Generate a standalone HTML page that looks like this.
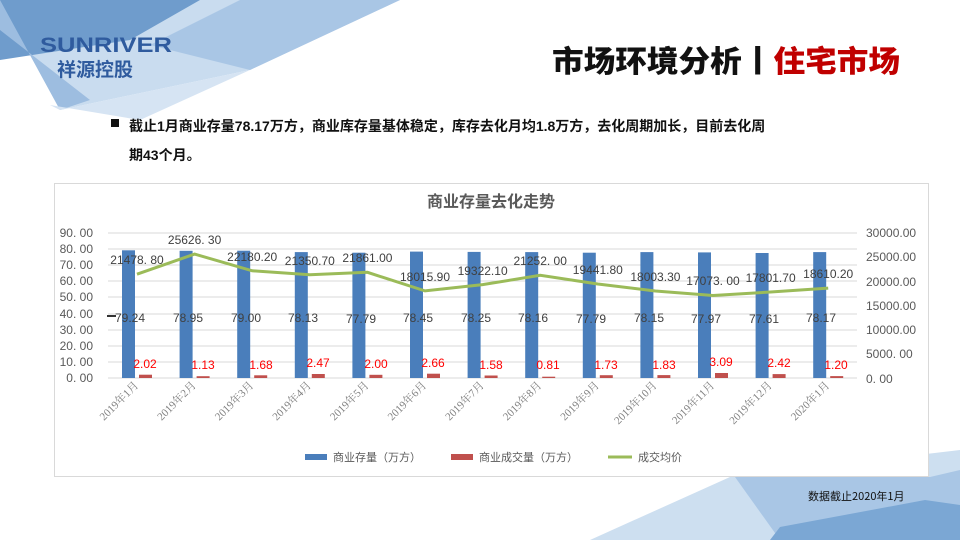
<!DOCTYPE html>
<html><head><meta charset="utf-8"><style>
body{margin:0;width:960px;height:540px;overflow:hidden;background:#fff;font-family:"Liberation Sans","Noto Sans CJK SC",sans-serif;position:relative}
</style></head><body>
<svg width="960" height="540" style="position:absolute;left:0;top:0">
<polygon points="0,0 400,0 250,70 60,110" fill="#c9dcef"/>
<polygon points="0,0 200,0 130,40 0,60" fill="#6f9ccc"/>
<polygon points="0,0 60,110 90,100 0,30" fill="#9dbde0"/>
<polygon points="60,110 250,70 140,120 50,105" fill="#d6e4f3"/>
<polygon points="400,0 240,0 150,45 250,70" fill="#a9c6e5"/>
<polygon points="590,540 730,477 960,450 960,540" fill="#cddff0"/>
<polygon points="735,477 930,477 960,470 960,540 780,540" fill="#a9c6e5"/>
<polygon points="780,527 925,500 960,505 960,540 770,540" fill="#7ba7d4"/>
<text x="40" y="52" font-size="21" font-weight="bold" fill="#2f5b9e" font-family="Liberation Sans,sans-serif" textLength="132" lengthAdjust="spacingAndGlyphs">SUNRIVER</text>
<text x="57" y="76" font-size="19" font-weight="bold" fill="#2f5b9e" font-family="Noto Sans CJK SC,sans-serif">祥源控股</text>
<text x="552" y="72" font-size="30" font-weight="900" fill="#111" font-family="Noto Sans CJK SC,sans-serif" textLength="348" lengthAdjust="spacingAndGlyphs">市场环境分析丨<tspan fill="#c00000">住宅市场</tspan></text>
<rect x="111" y="119" width="8" height="8" fill="#111"/>
<text x="129" y="131" font-size="14" font-weight="bold" fill="#111" font-family="Liberation Sans,Noto Sans CJK SC,sans-serif">截止1月商业存量78.17万方，商业库存量基体稳定，库存去化月均1.8万方，去化周期加长，目前去化周</text>
<text x="129" y="160" font-size="14" font-weight="bold" fill="#111" font-family="Liberation Sans,Noto Sans CJK SC,sans-serif">期43个月。</text>
<rect x="54.5" y="183.5" width="874" height="293" fill="#fff" stroke="#d9d9d9"/>
<text x="491" y="207" font-size="16" font-weight="bold" fill="#595959" text-anchor="middle" font-family="Noto Sans CJK SC,sans-serif">商业存量去化走势</text>
<g stroke="#d9d9d9" stroke-width="1">
<line x1="108" x2="857" y1="233" y2="233"/><line x1="108" x2="857" y1="249" y2="249"/><line x1="108" x2="857" y1="265" y2="265"/><line x1="108" x2="857" y1="281" y2="281"/><line x1="108" x2="857" y1="297" y2="297"/><line x1="108" x2="857" y1="314" y2="314"/><line x1="108" x2="857" y1="330" y2="330"/><line x1="108" x2="857" y1="346" y2="346"/><line x1="108" x2="857" y1="362" y2="362"/><line x1="108" x2="857" y1="378" y2="378"/>
</g>
<g font-size="12" fill="#595959" text-anchor="end">
<text x="93" y="237">90. 00</text><text x="93" y="253">80. 00</text><text x="93" y="269">70. 00</text><text x="93" y="285">60. 00</text><text x="93" y="301">50. 00</text><text x="93" y="318">40. 00</text><text x="93" y="334">30. 00</text><text x="93" y="350">20. 00</text><text x="93" y="366">10. 00</text><text x="93" y="382">0. 00</text>
</g>
<g font-size="12" fill="#595959">
<text x="866" y="237">30000.00</text><text x="866" y="261">25000.00</text><text x="866" y="286">20000.00</text><text x="866" y="310">15000.00</text><text x="866" y="334">10000.00</text><text x="866" y="358">5000. 00</text><text x="866" y="383">0. 00</text>
</g>
<g fill="#4a7ebb">
<rect x="122" y="250.3" width="13" height="127.7"/><rect x="179.6" y="250.8" width="13" height="127.2"/><rect x="237.2" y="250.7" width="13" height="127.3"/><rect x="294.8" y="252.1" width="13" height="125.9"/><rect x="352.4" y="252.7" width="13" height="125.3"/><rect x="410" y="251.6" width="13" height="126.4"/><rect x="467.6" y="251.9" width="13" height="126.1"/><rect x="525.2" y="252.1" width="13" height="125.9"/><rect x="582.8" y="252.7" width="13" height="125.3"/><rect x="640.4" y="252.1" width="13" height="125.9"/><rect x="698" y="252.4" width="13" height="125.6"/><rect x="755.6" y="253" width="13" height="125"/><rect x="813.2" y="252.1" width="13" height="125.9"/>
</g>
<g fill="#c0504d">
<rect x="139" y="374.7" width="13" height="3.3"/><rect x="196.6" y="376.2" width="13" height="1.8"/><rect x="254.2" y="375.3" width="13" height="2.7"/><rect x="311.8" y="374" width="13" height="4"/><rect x="369.4" y="374.8" width="13" height="3.2"/><rect x="427" y="373.7" width="13" height="4.3"/><rect x="484.6" y="375.5" width="13" height="2.5"/><rect x="542.2" y="376.7" width="13" height="1.3"/><rect x="599.8" y="375.2" width="13" height="2.8"/><rect x="657.4" y="375.1" width="13" height="2.9"/><rect x="715" y="373" width="13" height="5"/><rect x="772.6" y="374.1" width="13" height="3.9"/><rect x="830.2" y="376.1" width="13" height="1.9"/>
</g>
<polyline fill="none" stroke="#9bbb59" stroke-width="3" points="137,274.2 194.6,254.1 252.2,270.8 309.8,274.8 367.4,272.3 425,290.9 482.6,284.6 540.2,275.3 597.8,284 655.4,291 713,295.5 770.6,292 828.2,288.1"/>
<line x1="107" x2="116" y1="316" y2="316" stroke="#333" stroke-width="2"/>
<g font-size="12" fill="#404040" text-anchor="middle">
<text x="137" y="264">21478. 80</text><text x="194.6" y="244">25626. 30</text><text x="252.2" y="261">22180.20</text><text x="309.8" y="265">21350.70</text><text x="367.4" y="262">21861.00</text><text x="425" y="281">18015.90</text><text x="482.6" y="275">19322.10</text><text x="540.2" y="265">21252. 00</text><text x="597.8" y="274">19441.80</text><text x="655.4" y="281">18003.30</text><text x="713" y="285">17073. 00</text><text x="770.6" y="282">17801.70</text><text x="828.2" y="278">18610.20</text>
</g>
<g font-size="12" fill="#404040" text-anchor="middle">
<text x="130" y="322">79.24</text><text x="188" y="322">78.95</text><text x="246" y="322">79.00</text><text x="303" y="322">78.13</text><text x="361" y="323">77.79</text><text x="418" y="322">78.45</text><text x="476" y="322">78.25</text><text x="533" y="322">78.16</text><text x="591" y="323">77.79</text><text x="649" y="322">78.15</text><text x="706" y="323">77.97</text><text x="764" y="323">77.61</text><text x="821" y="322">78.17</text>
</g>
<g font-size="12" fill="#ff0000" text-anchor="middle">
<text x="145" y="368">2.02</text><text x="203" y="369">1.13</text><text x="261" y="369">1.68</text><text x="318" y="367">2.47</text><text x="376" y="368">2.00</text><text x="433" y="367">2.66</text><text x="491" y="369">1.58</text><text x="548" y="369">0.81</text><text x="606" y="369">1.73</text><text x="664" y="369">1.83</text><text x="721" y="366">3.09</text><text x="779" y="367">2.42</text><text x="836" y="369">1.20</text>
</g>
<g font-size="11" fill="#7f7f7f" text-anchor="end" font-family="Liberation Serif,Noto Serif CJK SC,serif">
<text transform="translate(139,386) rotate(-45)">2019年1月</text><text transform="translate(196.6,386) rotate(-45)">2019年2月</text><text transform="translate(254.2,386) rotate(-45)">2019年3月</text><text transform="translate(311.8,386) rotate(-45)">2019年4月</text><text transform="translate(369.4,386) rotate(-45)">2019年5月</text><text transform="translate(427,386) rotate(-45)">2019年6月</text><text transform="translate(484.6,386) rotate(-45)">2019年7月</text><text transform="translate(542.2,386) rotate(-45)">2019年8月</text><text transform="translate(599.8,386) rotate(-45)">2019年9月</text><text transform="translate(657.4,386) rotate(-45)">2019年10月</text><text transform="translate(715,386) rotate(-45)">2019年11月</text><text transform="translate(772.6,386) rotate(-45)">2019年12月</text><text transform="translate(830.2,386) rotate(-45)">2020年1月</text>
</g>
<rect x="305" y="454" width="22" height="6" fill="#4a7ebb"/>
<text x="333" y="461" font-size="11" fill="#595959" font-family="Noto Sans CJK SC,sans-serif">商业存量（万方）</text>
<rect x="451" y="454" width="22" height="6" fill="#c0504d"/>
<text x="479" y="461" font-size="11" fill="#595959" font-family="Noto Sans CJK SC,sans-serif">商业成交量（万方）</text>
<line x1="608" x2="632" y1="457" y2="457" stroke="#9bbb59" stroke-width="3"/>
<text x="638" y="461" font-size="11" fill="#595959" font-family="Noto Sans CJK SC,sans-serif">成交均价</text>
<text x="808" y="500" font-size="11" fill="#111" font-family="Noto Sans CJK SC,sans-serif">数据截止2020年1月</text>
</svg>
</body></html>
